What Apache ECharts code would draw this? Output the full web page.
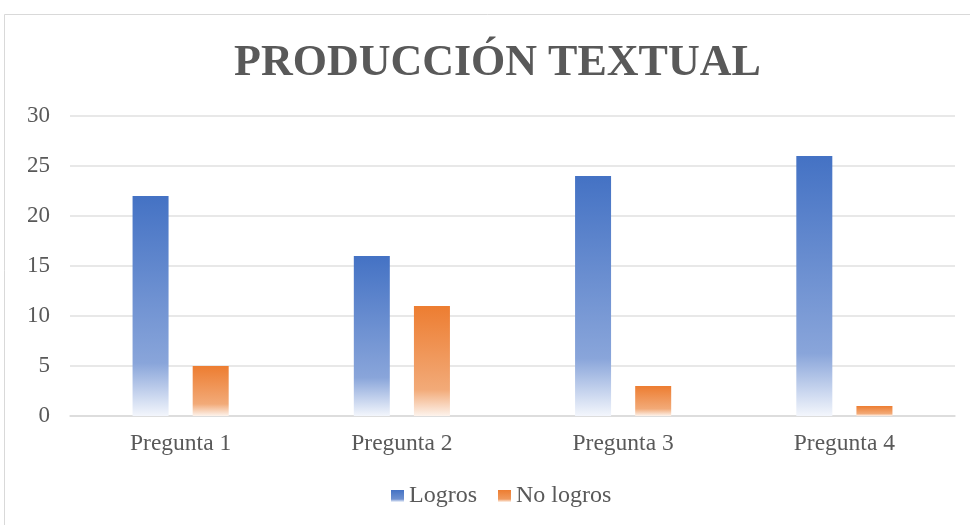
<!DOCTYPE html>
<html><head><meta charset="utf-8">
<script src="https://cdn.jsdelivr.net/npm/echarts@6/dist/echarts.min.js"></script>
<style>html,body{margin:0;padding:0;background:#fff}#c{width:970px;height:525px}</style>
</head><body><div id="c"></div>
<script>
const categories = ['Pregunta 1','Pregunta 2','Pregunta 3','Pregunta 4'];
const logros = [22,16,24,26];
const noLogros = [5,11,3,1];
const seriesNames = ['Logros','No logros'];
const titleText = 'PRODUCCIÓN TEXTUAL';

function grad(c1, c2, c3){
  return new echarts.graphic.LinearGradient(0,0,0,1,[
    {offset:0,color:c1},{offset:0.76,color:c2},{offset:1,color:c3}
  ]);
}
const blue = grad('#4472C4','#89a5da','#f3f6fc');
const orange = grad('#ED7D31','#f2aa78','#fdf3ec');
const serif = '"Liberation Serif","Times New Roman",serif';
const chart = echarts.init(document.getElementById('c'));
chart.setOption({
  animation:false,
  backgroundColor:'#fff',
  graphic:[{type:'rect',shape:{x:4.5,y:14.5,width:980,height:520},style:{fill:'none',stroke:'#d9d9d9',lineWidth:1},silent:true}],
  title:{text:titleText,left:229,top:37,textStyle:{fontFamily:serif,fontSize:44,fontWeight:'bold',color:'#595959'}},
  legend:{bottom:12,left:386,itemWidth:13,itemHeight:12,itemGap:21,icon:'rect',
    textStyle:{fontFamily:serif,fontSize:24,color:'#595959'},
    data:[{name:seriesNames[0],itemStyle:{color:grad('#4472C4','#6f91d0','#f3f6fc')}},{name:seriesNames[1],itemStyle:{color:grad('#ED7D31','#f09a5e','#fdf3ec')}}]},
  grid:{left:70,right:15,top:116,bottom:109,containLabel:false},
  xAxis:{type:'category',data:categories,
    axisLine:{lineStyle:{color:'#d9d9d9',width:1.5}},axisTick:{show:false},
    axisLabel:{fontFamily:serif,fontSize:23.5,color:'#595959',margin:16}},
  yAxis:{type:'value',min:0,max:30,interval:5,
    axisLine:{show:false},axisTick:{show:false},
    splitLine:{lineStyle:{color:'#e0e0e0',width:1.5}},
    axisLabel:{fontFamily:serif,fontSize:23,color:'#595959',margin:20}},
  series:[
    {name:seriesNames[0],type:'bar',data:logros,barWidth:36,barGap:'67%',itemStyle:{color:blue}},
    {name:seriesNames[1],type:'bar',data:noLogros,barWidth:36,itemStyle:{color:orange}}
  ]
});
</script></body></html>
